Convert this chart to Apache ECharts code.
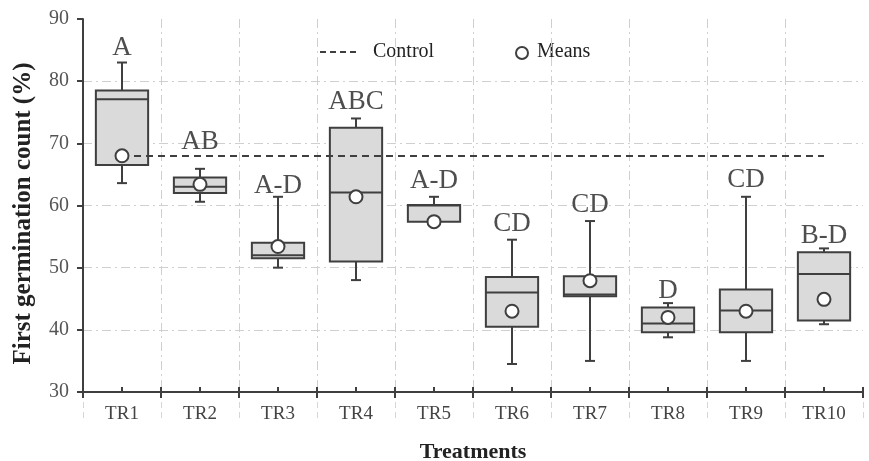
<!DOCTYPE html>
<html>
<head>
<meta charset="utf-8">
<script src="https://cdn.jsdelivr.net/npm/echarts@6/dist/echarts.min.js"></script>
<style>html,body{margin:0;padding:0;background:#fff;}#c{width:869px;height:461px;}</style>
</head>
<body>
<div id="c"></div>
<script>
const categories = ['TR1','TR2','TR3','TR4','TR5','TR6','TR7','TR8','TR9','TR10'];
const whiskerLow  = [63.6, 60.6, 50.0, 48.0, 57.4, 34.5, 35.0, 38.8, 35.0, 40.9];
const q1Values    = [66.5, 62.0, 51.5, 51.0, 57.4, 40.5, 45.4, 39.6, 39.6, 41.5];
const medians     = [77.1, 63.0, 52.0, 62.1, 60.0, 46.0, 45.7, 41.0, 43.1, 49.0];
const q3Values    = [78.5, 64.5, 54.0, 72.5, 60.1, 48.5, 48.6, 43.6, 46.5, 52.5];
const whiskerHigh = [83.0, 65.9, 61.4, 74.0, 61.4, 54.5, 57.5, 44.3, 61.4, 53.1];
const means       = [68.0, 63.4, 53.4, 61.4, 57.4, 43.0, 47.9, 42.0, 43.0, 44.9];
const letters     = ['A','AB','A-D','ABC','A-D','CD','CD','D','CD','B-D'];
const letterLevels = [85.4, 70.2, 63.1, 76.6, 63.9, 57.0, 60.1, 46.3, 64.1, 55.1];
const controlValue = 68;
const yTicks = [30, 40, 50, 60, 70, 80, 90];

const SERIF = '"Liberation Serif", "DejaVu Serif", serif';
const DARK = '#3f3f3f';
const GRIDC = '#cfcfcf';
const dashDot = [9, 4, 2, 4];

const boxData = categories.map((c, i) => [i, whiskerLow[i], q1Values[i], medians[i], q3Values[i], whiskerHigh[i]]);

const chart = echarts.init(document.getElementById('c'));
const baseCat = {type: 'category', data: categories, gridIndex: 0, position: 'bottom'};
chart.setOption({
  animation: false,
  grid: {left: 83, right: 6, top: 19, bottom: 69, containLabel: false, outerBoundsMode: 'none'},
  xAxis: [
    Object.assign({}, baseCat, {
      axisLine: {show: true, lineStyle: {color: DARK, width: 2}},
      axisTick: {show: true, length: 30, inside: false, lineStyle: {color: '#d6d6d6', type: [6, 4], width: 1}},
      axisLabel: {color: '#444', fontFamily: SERIF, fontSize: 19, margin: 13},
      splitLine: {show: true, showMinLine: false, showMaxLine: false, lineStyle: {color: GRIDC, type: dashDot, width: 1}},
      name: 'Treatments', nameLocation: 'middle', nameGap: 49,
      nameTextStyle: {fontFamily: SERIF, fontSize: 22, fontWeight: 'bold', color: '#222'}
    }),
    Object.assign({}, baseCat, {
      axisLine: {show: false}, axisLabel: {show: false}, splitLine: {show: false},
      axisTick: {show: true, length: 6, inside: false, lineStyle: {color: DARK, width: 2}}
    }),
    Object.assign({}, baseCat, {
      axisLine: {show: false}, axisLabel: {show: false}, splitLine: {show: false},
      axisTick: {show: true, length: 5, inside: true, lineStyle: {color: DARK, width: 2}}
    }),
    Object.assign({}, baseCat, {
      axisLine: {show: false}, axisLabel: {show: false}, splitLine: {show: false},
      axisTick: {show: true, alignWithLabel: true, length: 5, inside: true, lineStyle: {color: DARK, width: 2}}
    })
  ],
  yAxis: {
    type: 'value', min: 30, max: 90, interval: 10,
    axisLine: {show: true, lineStyle: {color: DARK, width: 2}},
    axisTick: {show: true, length: 6, inside: false, lineStyle: {color: DARK, width: 2}},
    axisLabel: {color: '#555', fontFamily: SERIF, fontSize: 20, margin: 14},
    splitLine: {show: true, showMaxLine: false, lineStyle: {color: GRIDC, type: dashDot, width: 1}},
    name: 'First germination count (%)', nameLocation: 'middle', nameGap: 47,
    nameTextStyle: {fontFamily: SERIF, fontSize: 25, fontWeight: 'bold', color: '#222', padding: [0, 16, 0, 0]}
  },
  series: [
    {
      type: 'line', name: 'Control', data: [], silent: true,
      markLine: {
        silent: true, symbol: ['none', 'none'], label: {show: false},
        lineStyle: {color: DARK, type: [7, 5], width: 2},
        data: [[{coord: [0, controlValue]}, {coord: [categories.length - 1, controlValue]}]]
      }
    },
    {
      type: 'custom', name: 'Boxes', data: boxData, z: 3,
      encode: {x: 0, y: [1, 2, 3, 4, 5]},
      renderItem: function (params, api) {
        const x = api.value(0);
        const lo = api.coord([x, api.value(1)]);
        const q1 = api.coord([x, api.value(2)]);
        const md = api.coord([x, api.value(3)]);
        const q3 = api.coord([x, api.value(4)]);
        const hi = api.coord([x, api.value(5)]);
        const bw = api.size([1, 0])[0] * 0.67;
        const cx = lo[0];
        const cap = 5;
        const st = {stroke: DARK, lineWidth: 2, fill: null};
        return {
          type: 'group',
          children: [
            {type: 'line', shape: {x1: cx, y1: hi[1], x2: cx, y2: q3[1]}, style: st},
            {type: 'line', shape: {x1: cx, y1: q1[1], x2: cx, y2: lo[1]}, style: st},
            {type: 'line', shape: {x1: cx - cap, y1: hi[1], x2: cx + cap, y2: hi[1]}, style: st},
            {type: 'line', shape: {x1: cx - cap, y1: lo[1], x2: cx + cap, y2: lo[1]}, style: st},
            {type: 'rect', shape: {x: cx - bw / 2, y: q3[1], width: bw, height: q1[1] - q3[1]}, style: {fill: '#dadada', stroke: DARK, lineWidth: 2}},
            {type: 'line', shape: {x1: cx - bw / 2, y1: md[1], x2: cx + bw / 2, y2: md[1]}, style: st}
          ]
        };
      }
    },
    {
      type: 'scatter', name: 'Means', z: 5,
      data: categories.map((c, i) => [i, means[i]]),
      symbol: 'circle', symbolSize: 13,
      itemStyle: {color: '#fff', borderColor: DARK, borderWidth: 2, opacity: 1}
    },
    {
      type: 'scatter', name: 'Letters', z: 6, silent: true,
      data: categories.map((c, i) => [i, letterLevels[i]]),
      symbolSize: 0,
      label: {
        show: true, position: 'inside',
        formatter: p => letters[p.dataIndex],
        fontFamily: SERIF, fontSize: 27, color: '#222'
      }
    }
  ],
  graphic: [
    {type: 'line', shape: {x1: 320, y1: 52, x2: 360, y2: 52}, style: {stroke: DARK, lineWidth: 2, lineDash: [6, 4]}},
    {type: 'text', x: 373, y: 52, style: {text: 'Control', font: '20px "Liberation Serif", serif', fill: '#222', verticalAlign: 'middle'}},
    {type: 'circle', shape: {cx: 522, cy: 53, r: 6}, style: {fill: '#fff', stroke: DARK, lineWidth: 2}},
    {type: 'text', x: 537, y: 52, style: {text: 'Means', font: '20px "Liberation Serif", serif', fill: '#222', verticalAlign: 'middle'}}
  ]
});
</script>
</body>
</html>
